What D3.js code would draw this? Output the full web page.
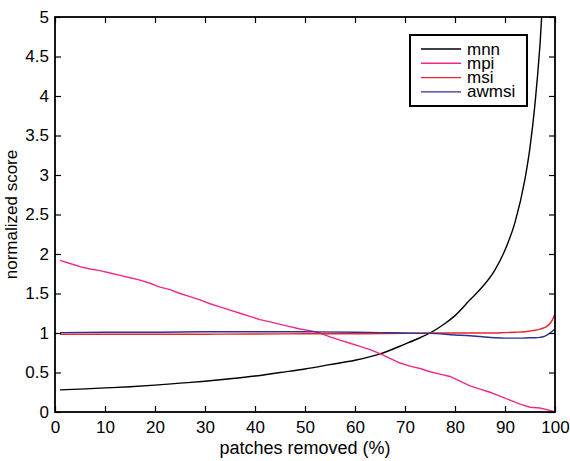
<!DOCTYPE html>
<html>
<head>
<meta charset="utf-8">
<script src="https://cdn.jsdelivr.net/npm/d3@7"></script>
<style>
  body { margin: 0; background: #fff; }
  svg { display: block; font-family: "Liberation Sans", Arial, Helvetica, sans-serif; }
</style>
</head>
<body>
<div id="chart"></div>
<script>

// series values
var mnnX = [1,5,10,15,20,25,30,35,40,45,50,55,60,65,70,73,75,78,80,83,85,88,90,92,94,95,96,97,98];
var mnnY = [0.28,0.29,0.305,0.32,0.34,0.365,0.39,0.42,0.455,0.50,0.545,0.60,0.655,0.735,0.86,0.94,1.0,1.12,1.22,1.42,1.55,1.80,2.05,2.4,2.95,3.35,3.9,4.65,5.7];

var mpiX = [1,3,5,7,9,11,13,15,17,19,21,23,25,27,29,31,33,35,37,39,41,43,45,47,49,51,53,55,57,59,61,63,65,67,69,71,73,75,77,79,81,83,85,87,89,91,93,95,97,99,100];
var mpiY = [1.92,1.88,1.84,1.81,1.79,1.76,1.73,1.70,1.67,1.63,1.58,1.55,1.50,1.46,1.42,1.37,1.33,1.29,1.25,1.21,1.17,1.14,1.11,1.08,1.05,1.03,1.00,0.95,0.91,0.87,0.83,0.79,0.74,0.68,0.62,0.58,0.55,0.51,0.48,0.45,0.39,0.33,0.29,0.25,0.20,0.15,0.10,0.06,0.05,0.02,0.00];

var msiX = [1,10,20,30,40,50,60,70,75,80,85,88,90,92,94,95,96,97,98,99,99.5,100];
var msiY = [0.985,0.985,0.985,0.985,0.988,0.99,0.99,0.995,1.0,1.0,1.0,1.0,1.005,1.01,1.016,1.025,1.035,1.05,1.07,1.12,1.17,1.24];

var awmsiX = [1,10,20,30,40,50,60,65,70,75,80,83,85,88,90,93,95,96,97,98,99,100];
var awmsiY = [1.005,1.01,1.01,1.015,1.015,1.015,1.01,1.005,1.0,0.995,0.975,0.965,0.955,0.94,0.935,0.935,0.94,0.94,0.945,0.96,1.0,1.05];

var seriesNames = ["mnn", "mpi", "msi", "awmsi"];
var seriesColors = ["#000000", "#f0288c", "#e8262c", "#2e3192"];

var xTicks = [0,10,20,30,40,50,60,70,80,90,100];
var yTicks = [0,0.5,1,1.5,2,2.5,3,3.5,4,4.5,5];


//**************************************************************************
//** chart
//**************************************************************************
var width = 570, height = 461;
var margin = {top: 17, right: 15, bottom: 49, left: 55};
var w = width - margin.left - margin.right,
    h = height - margin.top - margin.bottom;

var svg = d3.select("#chart").append("svg")
    .attr("width", width)
    .attr("height", height);

var g = svg.append("g")
    .attr("transform", "translate(" + margin.left + "," + margin.top + ")");

var x = d3.scaleLinear().domain([0, 100]).range([0, w]);
var y = d3.scaleLinear().domain([0, 5]).range([h, 0]);

g.append("clipPath").attr("id", "clip")
    .append("rect").attr("width", w).attr("height", h);

// lines
var series = [
    {name: "mnn", xs: mnnX, ys: mnnY, curve: d3.curveMonotoneX},
    {name: "mpi", xs: mpiX, ys: mpiY, curve: d3.curveLinear},
    {name: "msi", xs: msiX, ys: msiY, curve: d3.curveMonotoneX},
    {name: "awmsi", xs: awmsiX, ys: awmsiY, curve: d3.curveMonotoneX}
];

var plot = g.append("g").attr("clip-path", "url(#clip)");

series.forEach(function(s, i){
    var pts = s.xs.map(function(v, j){ return [v, s.ys[j]]; });
    var line = d3.line()
        .x(function(d){ return x(d[0]); })
        .y(function(d){ return y(d[1]); })
        .curve(s.curve);
    plot.append("path")
        .datum(pts)
        .attr("fill", "none")
        .attr("stroke", seriesColors[i])
        .attr("stroke-width", 1.4)
        .attr("d", line);
});

// axes with inward ticks, matlab style
var fontSize = 17;
var tickLen = 6;

var axBottom = g.append("g").attr("transform", "translate(0," + h + ")")
    .call(d3.axisBottom(x).tickValues(xTicks).tickSize(-tickLen).tickPadding(5));
var axLeft = g.append("g")
    .call(d3.axisLeft(y).tickValues(yTicks).tickSize(-tickLen).tickPadding(5)
        .tickFormat(function(d){ return d3.format("")(d); }));
var axTop = g.append("g")
    .call(d3.axisTop(x).tickValues(xTicks).tickSize(-tickLen).tickFormat(""));
var axRight = g.append("g").attr("transform", "translate(" + w + ",0)")
    .call(d3.axisRight(y).tickValues(yTicks).tickSize(-tickLen).tickFormat(""));

[axBottom, axLeft, axTop, axRight].forEach(function(a){
    a.select(".domain").remove();
    a.selectAll(".tick line").attr("stroke", "#000").attr("stroke-width", 1.2);
    a.selectAll("text")
        .attr("fill", "#000")
        .style("font-size", fontSize + "px")
        .style("font-family", "'Liberation Sans', Arial, sans-serif");
});
axBottom.selectAll("text").attr("dy", "0.71em").attr("y", 9);
axLeft.selectAll("text").attr("x", -6);

// box
g.append("rect")
    .attr("width", w).attr("height", h)
    .attr("fill", "none")
    .attr("stroke", "#000")
    .attr("stroke-width", 1.8);

// axis labels
g.append("text")
    .attr("x", w / 2).attr("y", h + 42)
    .attr("text-anchor", "middle")
    .style("font-size", "18px")
    .text("patches removed (%)");

g.append("text")
    .attr("transform", "translate(" + (-38) + "," + (h / 2) + ") rotate(-90)")
    .attr("text-anchor", "middle")
    .style("font-size", "17px")
    .text("normalized score");

// legend
var legend = g.append("g").attr("transform", "translate(355,18)");
legend.append("rect")
    .attr("width", 117).attr("height", 71)
    .attr("fill", "#fff")
    .attr("stroke", "#000")
    .attr("stroke-width", 2);

seriesNames.forEach(function(n, i){
    var ly = 14 + i * 14.3;
    legend.append("line")
        .attr("x1", 11).attr("x2", 51)
        .attr("y1", ly).attr("y2", ly)
        .attr("stroke", seriesColors[i])
        .attr("stroke-width", 1.4);
    legend.append("text")
        .attr("x", 57).attr("y", ly + 5.5)
        .style("font-size", "17px")
        .text(n);
});

</script>
</body>
</html>
